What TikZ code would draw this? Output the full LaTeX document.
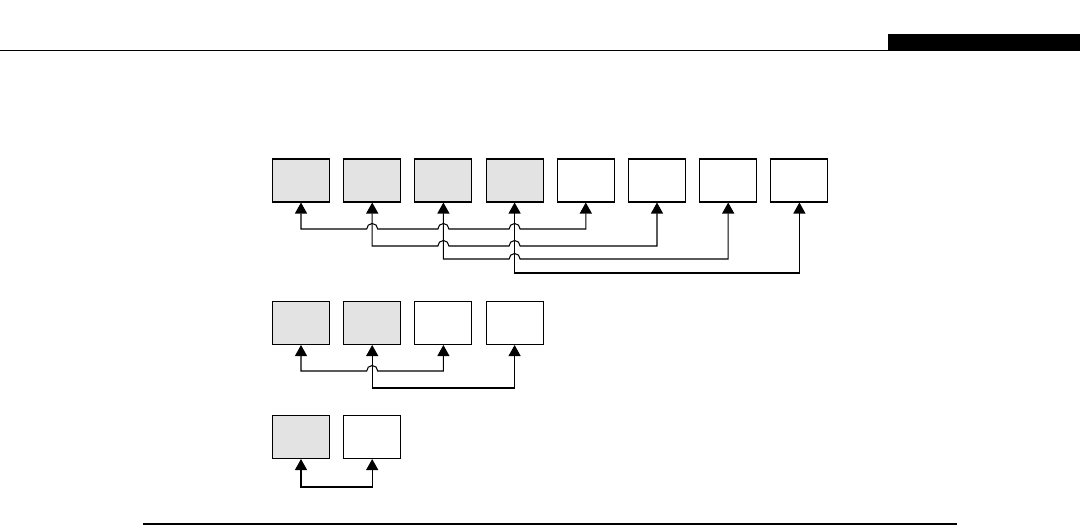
\documentclass[tikz,border=0pt]{standalone}
\usepackage{tikz}
\usetikzlibrary{arrows.meta,calc}

\begin{document}
\begin{tikzpicture}[x=0.02cm,y=-0.02cm,
  cell/.style={draw,line width=0.6pt,minimum width=1.14cm,minimum height=0.86cm,inner sep=0pt},
  cellfull/.style={cell,fill=black!11},
  link/.style={line width=0.6pt,{Triangle[length=2.2mm,width=2.4mm]}-{Triangle[length=2.2mm,width=2.4mm]}}]
\useasboundingbox (0,0) rectangle (1080,526);
% page rules
\draw[line width=0.6pt] (0,50.5) -- (888,50.5);
\fill (888,34) rectangle (1080,51);
\draw[line width=0.7pt] (143,524) -- (957,524);
% row of eight
\foreach \i in {1,...,4} \node[cellfull] (r1c\i) at (229.8+71.2*\i,180.5) {};
\foreach \i in {5,...,8} \node[cell] (r1c\i) at (229.8+71.2*\i,180.5) {};
% row of four
\foreach \i in {1,2} \node[cellfull] (r2c\i) at (229.8+71.2*\i,323) {};
\foreach \i in {3,4} \node[cell] (r2c\i) at (229.8+71.2*\i,323) {};
% row of two
\node[cellfull] (r3c1) at (301,437) {};
\node[cell] (r3c2) at (372.2,437) {};
% levels of the links
\coordinate (la) at (0,229);
\coordinate (lb) at (0,246);
\coordinate (lc) at (0,259);
\coordinate (ld) at (0,273);
\coordinate (le) at (0,371);
\coordinate (lf) at (0,388);
\coordinate (lg) at (0,487);
% links with hops
\draw[link] (r1c1.south) |- ($(r1c2.south |- la)+(-1.1mm,0)$) arc[start angle=180,end angle=0,radius=1.1mm]
  -- ($(r1c3.south |- la)+(-1.1mm,0)$) arc[start angle=180,end angle=0,radius=1.1mm]
  -- ($(r1c4.south |- la)+(-1.1mm,0)$) arc[start angle=180,end angle=0,radius=1.1mm]
  -- (r1c5.south |- la) -- (r1c5.south);
\draw[link] (r1c2.south) |- ($(r1c3.south |- lb)+(-1.1mm,0)$) arc[start angle=180,end angle=0,radius=1.1mm]
  -- ($(r1c4.south |- lb)+(-1.1mm,0)$) arc[start angle=180,end angle=0,radius=1.1mm]
  -- (r1c6.south |- lb) -- (r1c6.south);
\draw[link] (r1c3.south) |- ($(r1c4.south |- lc)+(-1.1mm,0)$) arc[start angle=180,end angle=0,radius=1.1mm]
  -- (r1c7.south |- lc) -- (r1c7.south);
\draw[link] (r1c4.south) |- (r1c8.south |- ld) -- (r1c8.south);
\draw[link] (r2c1.south) |- ($(r2c2.south |- le)+(-1.1mm,0)$) arc[start angle=180,end angle=0,radius=1.1mm]
  -- (r2c3.south |- le) -- (r2c3.south);
\draw[link] (r2c2.south) |- (r2c4.south |- lf) -- (r2c4.south);
\draw[link] (r3c1.south) |- (r3c2.south |- lg) -- (r3c2.south);
\end{tikzpicture}
\end{document}
